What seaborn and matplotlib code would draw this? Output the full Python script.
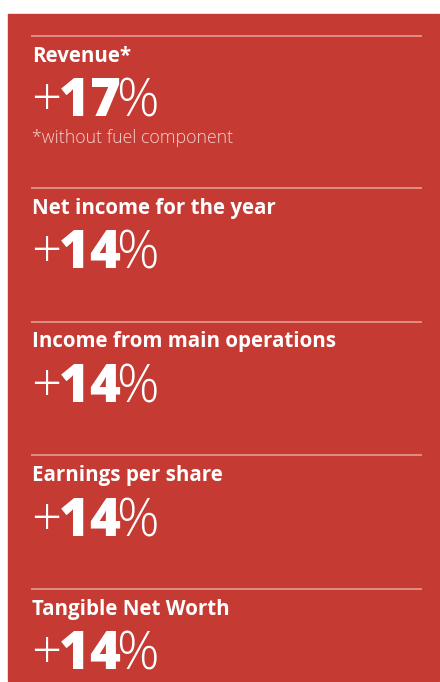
import matplotlib
matplotlib.use("Agg")
import matplotlib.pyplot as plt
import matplotlib.patches as patches
import seaborn as sns

# data
titles = ["Revenue*", "Net income for the year", "Income from main operations",
          "Earnings per share", "Tangible Net Worth"]
values = [17, 14, 14, 14, 14]
notes = ["*without fuel component", "", "", "", ""]

RED = "#c53a32"
LINE = "#e49a94"

sns.set_theme(style="white")
plt.rcParams['font.family'] = ['Open Sans', 'DejaVu Sans']
# heavy digits inside a light "+ %" via mathtext, so it stays one text
plt.rcParams['mathtext.fontset'] = 'custom'
plt.rcParams['mathtext.bf'] = 'Open Sans:weight=heavy'
plt.rcParams['mathtext.rm'] = 'Open Sans:weight=light'

fig = plt.figure(figsize=(4.4, 6.82), dpi=100)
ax = fig.add_axes([0, 0, 1, 1])
ax.set_xlim(0, 440)
ax.set_ylim(682, 0)
ax.axis("off")

# red panel
ax.add_patch(patches.Rectangle((8, 14), 431, 667, color=RED, zorder=0))

x0 = 32
y = 36
for title, val, note in zip(titles, values, notes):
    ax.hlines(y, 31, 422, color=LINE, lw=1.2)
    ax.text(x0, y + 26, title, color="white", fontsize=14.8, fontweight="bold",
            va="baseline", ha="left")
    big = r"+$\hspace{-0.05}\mathbf{%d}\hspace{-0.07}$%%" % val
    ax.text(x0 - 1, y + 80, big, color="white", fontsize=38, fontweight="light",
            va="baseline", ha="left")
    step = 133.5
    if note:
        ax.text(x0, y + 107, note, color="#f6d2ce", fontsize=12.8, fontweight="light",
                va="baseline", ha="left")
        step = 152
    y += step

fig.savefig("out.png", dpi=100, facecolor="white")
